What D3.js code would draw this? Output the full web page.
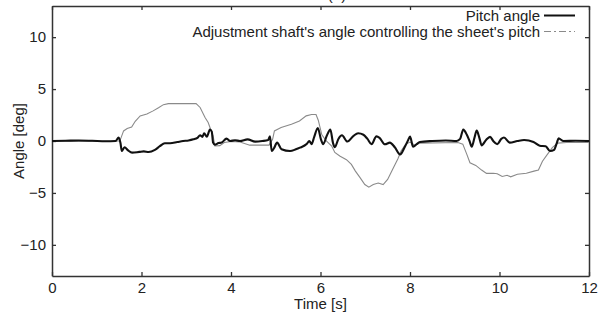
<!DOCTYPE html>
<html>
<head>
<meta charset="utf-8">
<script src="https://cdn.jsdelivr.net/npm/d3@7"></script>
<style>
  body { margin: 0; background: #fff; }
  svg text { font-family: "Liberation Sans", Arial, sans-serif; fill: #222; }
</style>
</head>
<body>
<div id="chart"></div>
<script>
// Pitch angle (black)
var pitchT = [0, 0.3, 0.6, 0.9, 1.2, 1.42, 1.49, 1.53, 1.56, 1.62, 1.7, 1.79, 1.95, 2.05, 2.16, 2.3, 2.41, 2.52, 2.64, 2.8,
  2.93, 3.05, 3.16, 3.25, 3.31, 3.36, 3.4, 3.46, 3.53, 3.57, 3.6, 3.64, 3.72, 3.79, 3.9, 3.98, 4.09, 4.2, 4.37, 4.54,
  4.7, 4.83, 4.87, 4.91, 4.96, 5.03, 5.13, 5.32, 5.45, 5.54, 5.69, 5.75, 5.8, 5.86, 5.94, 6.01, 6.06, 6.14, 6.22, 6.28,
  6.32, 6.4, 6.48, 6.6, 6.74, 6.84, 6.96, 7.05, 7.14, 7.25, 7.32, 7.44, 7.55, 7.66, 7.78, 7.88, 7.96, 8.0, 8.07, 8.15,
  8.22, 8.5, 8.8, 9.04, 9.12, 9.19, 9.27, 9.33, 9.38, 9.44, 9.49, 9.55, 9.6, 9.7, 9.79, 9.86, 9.95, 10.04, 10.1, 10.23,
  10.4, 10.55, 10.76, 10.9, 11.03, 11.13, 11.22, 11.28, 11.32, 11.43, 11.7, 12];
var pitchV = [0, 0.02, 0.05, 0.02, -0.02, 0, 0.33, -0.2, -0.97, -0.6, -0.9, -1.12, -1.05, -1.0, -1.06, -0.85, -0.5, -0.22, -0.22, -0.1,
  0, 0.05, 0.16, 0.3, 0.55, 0.4, 0.74, 0.42, 1.1, 0.9, -0.16, -0.35, -0.2, -0.15, 0.23, 0, 0.07, 0, 0.16, -0.06,
  0, 0.1, 0.45, -0.97, -0.7, -0.16, -0.8, -0.97, -0.8, -0.64, -0.3, 0, -0.3, 0.4, 1.25, 0.16, -0.3, 0.5, 1.1, -0.2,
  -0.6, 0.2, 0.55, -0.05, 0.5, 0.75, 0.6, 0.2, -0.3, 0.45, 0.3, -0.32, -0.16, -0.6, -1.29, -0.6, 0.1, 0.42, -0.55, -0.3,
  -0.1, 0, 0.05, 0, 0.2, 1.1, 0.6, 0, -0.55, 0.3, 1.0, 0.3, -0.42, 0.1, 0.4, 0, -0.3, 0.2, 0.33, -0.16,
  0, 0.1, -0.1, -0.45, -0.5, -0.97, -0.85, -0.2, 0.25, 0, 0.02, 0];

// Adjustment shaft's angle (grey)
var shaftT = [0, 1.0, 1.5, 1.53, 1.6, 1.68, 1.78, 1.86, 1.97, 2.12, 2.26, 2.38, 2.49, 2.6, 3.22, 3.31, 3.42, 3.49, 3.53, 3.6,
  3.64, 3.75, 3.85, 4.0, 4.2, 4.42, 4.85, 4.93, 4.97, 5.12, 5.35, 5.53, 5.68, 5.8, 5.9, 5.95, 6.03, 6.13, 6.25, 6.32,
  6.43, 6.58, 6.69, 6.78, 6.88, 6.99, 7.08, 7.18, 7.29, 7.4, 7.5, 7.61, 7.73, 7.8, 7.9, 8.0, 8.11, 8.22, 9.07, 9.18,
  9.27, 9.34, 9.47, 9.6, 9.71, 9.86, 9.95, 10.06, 10.17, 10.25, 10.4, 10.6, 10.77, 10.87, 10.96, 11.07, 11.18, 11.3, 11.5, 12];
var shaftV = [0, -0.02, 0, 0.16, 0.97, 1.2, 1.35, 1.9, 2.42, 2.6, 2.9, 3.2, 3.5, 3.6, 3.6, 3.23, 2.26, 1.78, 1.3, 0.48,
  -0.48, -0.45, -0.15, -0.05, -0.1, -0.4, -0.4, 0.16, 0.97, 1.3, 1.62, 1.93, 2.42, 2.55, 2.55, 2.0, 0.6, 0, -0.48, -1.1,
  -1.45, -1.8, -2.25, -2.9, -3.5, -4.19, -4.45, -4.19, -4.05, -4.2, -3.7, -2.74, -1.7, -0.97, -0.32, -0.1, -0.4, -0.2, -0.15, -0.3,
  -1.29, -2.1, -2.35, -2.8, -3.12, -3.1, -3.15, -3.42, -3.3, -3.45, -3.2, -3.1, -2.9, -2.8, -1.95, -1.29, -0.64, -0.2, -0.15, -0.15];

var xTicks = [0, 2, 4, 6, 8, 10, 12];
var yTicks = [-10, -5, 0, 5, 10];
var legendLabels = ["Pitch angle", "Adjustment shaft's angle controlling the sheet's pitch"];

var w = 602, h = 312;
// plot box (don't call it "top": that's window.top)
var padLeft = 52, padRight = 589, padTop = 6, padBottom = 276;
var fontSize = "15px";

var svg = d3.select("#chart").append("svg")
  .attr("width", w)
  .attr("height", h);

var xScale = d3.scaleLinear().domain([0, 12]).range([padLeft, padRight]);
var yScale = d3.scaleLinear().domain([-13, 13]).range([padBottom, padTop]);

// cut off panel title at the very top
svg.append("text")
  .attr("x", 337).attr("y", 0)
  .attr("text-anchor", "middle")
  .style("font-size", "15px")
  .text("(a)");

// axes with inward ticks on all four sides
var tickLen = 4;
svg.append("g")
  .attr("transform", "translate(0," + padBottom + ")")
  .call(d3.axisBottom(xScale).tickValues(xTicks).tickSizeInner(-tickLen).tickSizeOuter(0).tickPadding(6));
svg.append("g")
  .attr("transform", "translate(0," + padTop + ")")
  .call(d3.axisTop(xScale).tickValues(xTicks).tickSizeInner(-tickLen).tickSizeOuter(0).tickFormat(""));
svg.append("g")
  .attr("transform", "translate(" + padLeft + ",0)")
  .call(d3.axisLeft(yScale).tickValues(yTicks).tickSizeInner(-tickLen).tickSizeOuter(0).tickPadding(6));
svg.append("g")
  .attr("transform", "translate(" + padRight + ",0)")
  .call(d3.axisRight(yScale).tickValues(yTicks).tickSizeInner(-tickLen).tickSizeOuter(0).tickFormat(""));

svg.selectAll(".domain").attr("stroke", "#333").attr("stroke-width", 1.5);
svg.selectAll(".tick line").attr("stroke", "#333").attr("stroke-width", 1.3);
svg.selectAll(".tick text")
  .style("font-size", fontSize)
  .style("font-family", "'Liberation Sans', Arial, sans-serif")
  .attr("fill", "#222");

// axis titles
svg.append("text")
  .attr("x", (padLeft + padRight) / 2).attr("y", 308.5)
  .attr("text-anchor", "middle")
  .style("font-size", fontSize)
  .text("Time [s]");
svg.append("text")
  .attr("transform", "translate(23.5," + yScale(0) + ") rotate(-90)")
  .attr("text-anchor", "middle")
  .style("font-size", fontSize)
  .text("Angle [deg]");

var shaftLine = d3.line()
  .x(function (d) { return xScale(d[0]); })
  .y(function (d) { return yScale(d[1]); });

// pitch oscillations look smooth in the original
var pitchLine = d3.line()
  .curve(d3.curveMonotoneX)
  .x(function (d) { return xScale(d[0]); })
  .y(function (d) { return yScale(d[1]); });

var shaftData = shaftT.map(function (t, i) { return [t, shaftV[i]]; });
var pitchData = pitchT.map(function (t, i) { return [t, pitchV[i]]; });

svg.append("path")
  .datum(shaftData)
  .attr("d", shaftLine)
  .attr("fill", "none")
  .attr("stroke", "#8a8a8a")
  .attr("stroke-width", 1.1);

svg.append("path")
  .datum(pitchData)
  .attr("d", pitchLine)
  .attr("fill", "none")
  .attr("stroke", "#111")
  .attr("stroke-width", 2.1)
  .attr("stroke-linejoin", "round");

// legend
var legend = svg.append("g");
legendLabels.forEach(function (label, i) {
  var y = 15.5 + i * 16;
  legend.append("text")
    .attr("x", 540).attr("y", y + 5)
    .attr("text-anchor", "end")
    .style("font-size", fontSize)
    .text(label);
  legend.append("line")
    .attr("x1", 544).attr("x2", 575)
    .attr("y1", y).attr("y2", y)
    .attr("stroke", i == 0 ? "#111" : "#8a8a8a")
    .attr("stroke-width", i == 0 ? 2 : 1.1)
    .attr("stroke-dasharray", i == 0 ? null : "7,3,2,3");
});
</script>
</body>
</html>
